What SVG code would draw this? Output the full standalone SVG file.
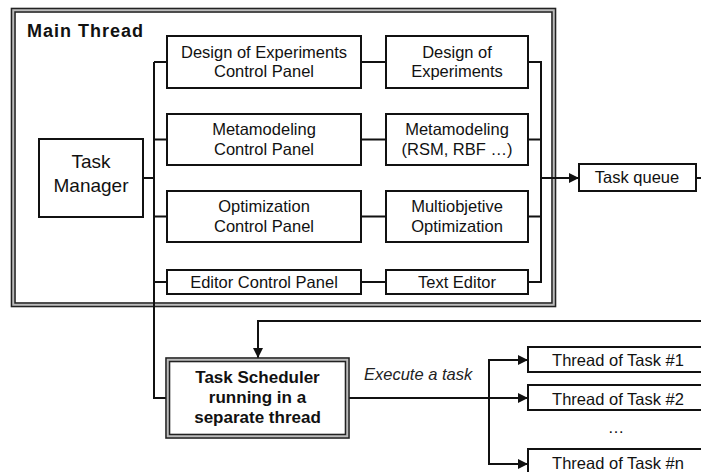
<svg xmlns="http://www.w3.org/2000/svg" width="701" height="472" viewBox="0 0 701 472">
  <style>
    .box { fill: #fff; stroke: #111; stroke-width: 2; }
    .frame { fill: none; stroke: #222; stroke-width: 1.6; }
    .band { fill: none; stroke: #bbb; stroke-width: 2; }
    .wire { fill: none; stroke: #111; stroke-width: 2; }
    text { font-family: "Liberation Sans", Arial, sans-serif; fill: #111; text-anchor: middle; }
    .t { font-size: 16.5px; }
    .big { font-size: 19px; }
    .bold { font-weight: bold; font-size: 17px; }
    .it { font-style: italic; font-size: 16.5px; text-anchor: start; fill: #222; }
  </style>
  <defs>
    <marker id="arrow" viewBox="0 0 10 10" refX="10" refY="5" markerWidth="5" markerHeight="5" markerUnits="strokeWidth" orient="auto">
      <path d="M0,0 L10,5 L0,10 z" fill="#111"/>
    </marker>
  </defs>
  <rect width="701" height="472" fill="#fff"/>

  <!-- Main thread container (double frame) -->
  <g id="main-thread">
    <rect class="band" x="13.25" y="10.25" width="540.5" height="294.5"/>
    <rect class="frame" x="11.5" y="8.5" width="544" height="298"/>
    <rect class="frame" x="15" y="12" width="537" height="291"/>
    <text x="27" y="37" class="bold" style="text-anchor:start;font-size:18px" textLength="116" lengthAdjust="spacing">Main Thread</text>
  </g>

  <!-- Connectors -->
  <g id="connectors">
    <!-- left bus from task manager to panels and scheduler -->
    <path class="wire" d="M143,178 H154"/>
    <path class="wire" d="M154,62 V398 H166"/>
    <path class="wire" d="M154,62 H167 M154,139.5 H167 M154,216.5 H167 M154,282 H167"/>
    <!-- panel to module links -->
    <path class="wire" d="M361,62 H386 M361,139.5 H386 M361,216.5 H386 M361,282 H386"/>
    <!-- right bus to task queue -->
    <path class="wire" d="M528,62 H541 V282 H528 M528,139.5 H541 M528,216.5 H541"/>
    <path class="wire" d="M541,178 H579" marker-end="url(#arrow)"/>
    <path class="wire" d="M696,178 H701"/>
    <!-- queue feedback to scheduler -->
    <path class="wire" d="M701,321 H258 V358" marker-end="url(#arrow)"/>
    <!-- scheduler dispatch to task threads -->
    <path class="wire" d="M349,398 H528" marker-end="url(#arrow)"/>
    <path class="wire" d="M528,360 H489 V464 H528" marker-end="url(#arrow)"/>
    <path class="wire" d="M489,360 H528" marker-end="url(#arrow)"/>
  </g>

  <g id="task-manager">
    <rect class="box" x="39" y="139" width="104" height="78"/>
    <text class="big" x="91" y="168">Task</text>
    <text class="big" x="91" y="192">Manager</text>
  </g>

  <g id="doe-panel">
    <rect class="box" x="167" y="36" width="194" height="52"/>
    <text class="t" x="264" y="58">Design of Experiments</text>
    <text class="t" x="264" y="77">Control Panel</text>
  </g>
  <g id="doe">
    <rect class="box" x="386" y="36" width="142" height="52"/>
    <text class="t" x="457" y="58">Design of</text>
    <text class="t" x="457" y="77">Experiments</text>
  </g>

  <g id="meta-panel">
    <rect class="box" x="167" y="114" width="194" height="51"/>
    <text class="t" x="264" y="135">Metamodeling</text>
    <text class="t" x="264" y="155">Control Panel</text>
  </g>
  <g id="meta">
    <rect class="box" x="386" y="114" width="142" height="51"/>
    <text class="t" x="457" y="135">Metamodeling</text>
    <text class="t" x="457" y="155">(RSM, RBF …)</text>
  </g>

  <g id="opt-panel">
    <rect class="box" x="167" y="191" width="194" height="51"/>
    <text class="t" x="264" y="212">Optimization</text>
    <text class="t" x="264" y="232">Control Panel</text>
  </g>
  <g id="opt">
    <rect class="box" x="386" y="191" width="142" height="51"/>
    <text class="t" x="457" y="212">Multiobjetive</text>
    <text class="t" x="457" y="232">Optimization</text>
  </g>

  <g id="editor-panel">
    <rect class="box" x="167" y="270" width="194" height="24"/>
    <text class="t" x="264" y="288">Editor Control Panel</text>
  </g>
  <g id="editor">
    <rect class="box" x="386" y="270" width="142" height="24"/>
    <text class="t" x="457" y="288">Text Editor</text>
  </g>

  <g id="task-queue">
    <rect class="box" x="579" y="164" width="117" height="27"/>
    <text class="t" x="637" y="183">Task queue</text>
  </g>

  <g id="task-scheduler">
    <rect x="166" y="358" width="183" height="80" fill="#fff"/>
    <rect class="band" x="167.75" y="359.75" width="179.5" height="76.5"/>
    <rect class="frame" x="166" y="358" width="183" height="80"/>
    <rect class="frame" x="169.5" y="361.5" width="176" height="73"/>
    <text class="bold" x="257.5" y="383">Task Scheduler</text>
    <text class="bold" x="257.5" y="403">running in a</text>
    <text class="bold" x="257.5" y="423">separate thread</text>
  </g>

  <text class="it" x="364" y="380">Execute a task</text>

  <g id="thread-1">
    <rect class="box" x="528" y="347" width="174" height="25"/>
    <text class="t" x="618" y="366">Thread of Task #1</text>
  </g>
  <g id="thread-2">
    <rect class="box" x="528" y="385" width="174" height="25"/>
    <text class="t" x="618" y="405">Thread of Task #2</text>
  </g>
  <text class="t" x="616" y="433">…</text>
  <g id="thread-n">
    <rect class="box" x="528" y="449" width="174" height="27"/>
    <text class="t" x="618" y="469">Thread of Task #n</text>
  </g>
</svg>
